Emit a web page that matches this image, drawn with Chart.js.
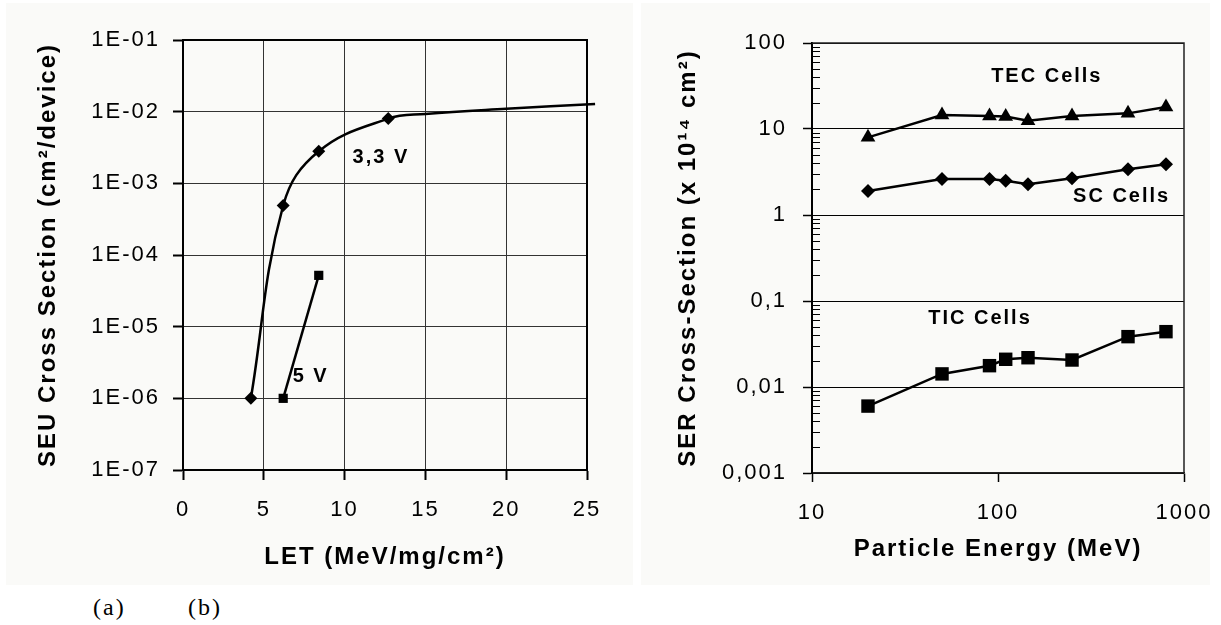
<!DOCTYPE html>
<html>
<head>
<meta charset="utf-8">
<script src="https://cdn.jsdelivr.net/npm/chart.js@4.4.1/dist/chart.umd.min.js"></script>
<style>
  html, body { margin: 0; padding: 0; background: #fff; }
  body { width: 1221px; height: 625px; position: relative; overflow: hidden; }
  .panel { position: absolute; background: #fafaf8; }
  #panelA { left: 6px; top: 3px; width: 627px; height: 582px; }
  #panelB { left: 641px; top: 3px; width: 569px; height: 582px; }
  .tag { position: absolute; top: 595px; font: 24px/24px "Liberation Serif", "Times New Roman", serif; letter-spacing: 2px; color: #000; }
</style>
</head>
<body>
<div class="panel" id="panelA"><canvas id="seuChart" width="627" height="582"></canvas></div>
<div class="panel" id="panelB"><canvas id="serChart" width="569" height="582"></canvas></div>
<div class="tag" style="left:93px">(a)</div>
<div class="tag" style="left:188px">(b)</div>
<script>
// ---- (a) SEU cross section vs LET ----
const let33 = [4.2, 6.2, 8.4, 12.7];
const sigma33 = [1e-6, 4.9e-4, 2.8e-3, 8e-3];
// fitted tail of the 3,3 V curve (no markers)
const let33Tail = [15, 20, 25.5];
const sigma33Tail = [9.3e-3, 1.1e-2, 1.28e-2];
const let5 = [6.2, 8.4];
const sigma5 = [1e-6, 5.2e-5];
const seuTicks = [1e-7, 1e-6, 1e-5, 1e-4, 1e-3, 1e-2, 1e-1];
const seuTickLabels = ["1E-07", "1E-06", "1E-05", "1E-04", "1E-03", "1E-02", "1E-01"];

// ---- (b) SER cross section vs particle energy ----
const energies = [20, 50, 90, 110, 145, 250, 500, 800];
const tecCells = [8, 14.5, 14.2, 14, 12.5, 14.2, 15.2, 18];
const scCells = [1.9, 2.62, 2.62, 2.5, 2.28, 2.67, 3.4, 3.9];
const ticCells = [0.006, 0.0142, 0.0177, 0.021, 0.0219, 0.0206, 0.0385, 0.044];
const energyTicks = [10, 100, 1000];
const energyTickLabels = ["10", "100", "1000"];
const serTicks = [0.001, 0.01, 0.1, 1, 10, 100];
const serTickLabels = ["0,001", "0,01", "0,1", "1", "10", "100"];

Chart.defaults.font.family = '"Liberation Sans", Arial, sans-serif';
Chart.defaults.color = "#000";

const toPoints = (xs, ys) => xs.map((x, i) => ({ x: x, y: ys[i] }));

// excel-like wide glyph spacing
const spacing = {
  id: "spacing",
  beforeLayout(chart) { chart.ctx.letterSpacing = "2px"; },
  beforeDraw(chart) { chart.ctx.letterSpacing = "2px"; }
};

// top/right border of the plot area
const frame = {
  id: "frame",
  beforeDatasetsDraw(chart, args, opts) {
    const { ctx, chartArea: a } = chart;
    ctx.save();
    ctx.strokeStyle = opts.color || "#000";
    ctx.lineWidth = opts.width || 2;
    ctx.beginPath();
    ctx.moveTo(a.left, a.top);
    ctx.lineTo(a.right, a.top);
    ctx.lineTo(a.right, a.bottom);
    ctx.stroke();
    ctx.restore();
  }
};

// text labels anchored in data space
const notes = {
  id: "notes",
  afterDatasetsDraw(chart, args, opts) {
    const { ctx, scales } = chart;
    ctx.save();
    ctx.font = "bold 20px " + Chart.defaults.font.family;
    ctx.fillStyle = "#000";
    ctx.textAlign = "center";
    ctx.textBaseline = "middle";
    (opts.items || []).forEach(n => {
      ctx.fillText(n.text, scales.x.getPixelForValue(n.x), scales.y.getPixelForValue(n.y));
    });
    ctx.restore();
  }
};

// minor log ticks drawn inside the plot on the y axis
const minorTicks = {
  id: "minorTicks",
  afterDraw(chart, args, opts) {
    if (!opts.enabled) return;
    const { ctx, scales, chartArea: a } = chart;
    ctx.save();
    ctx.strokeStyle = "#000";
    ctx.lineWidth = 1;
    serTicks.slice(0, -1).forEach(d => {
      for (let m = 2; m <= 9; m++) {
        const py = Math.round(scales.y.getPixelForValue(d * m)) + 0.5;
        ctx.beginPath();
        ctx.moveTo(a.left, py);
        ctx.lineTo(a.left + 8, py);
        ctx.stroke();
      }
    });
    ctx.restore();
  }
};

const tickFont = { size: 22 };
const titleFont = { size: 24, weight: "bold" };

new Chart(document.getElementById("seuChart"), {
  type: "line",
  data: {
    datasets: [
      {
        label: "3,3 V",
        data: toPoints(let33.concat(let33Tail), sigma33.concat(sigma33Tail)),
        borderColor: "#000",
        borderWidth: 2.5,
        pointStyle: "rectRot",
        pointRadius: c => (c.dataIndex < let33.length ? 6.5 : 0),
        pointBackgroundColor: "#000",
        pointBorderWidth: 0,
        tension: 0.4,
        clip: false
      },
      {
        label: "5 V",
        data: toPoints(let5, sigma5),
        borderColor: "#000",
        borderWidth: 2.5,
        pointStyle: "rect",
        pointRadius: 6.5,
        pointBackgroundColor: "#000",
        pointBorderWidth: 0
      }
    ]
  },
  options: {
    responsive: false,
    animation: false,
    layout: { padding: { top: 37, right: 46 } },
    plugins: {
      legend: { display: false },
      tooltip: { enabled: false },
      frame: { color: "#000", width: 2 },
      notes: {
        items: [
          { text: "3,3 V", x: 12.25, y: 2.33e-3 },
          { text: "5 V", x: 7.9, y: 2e-6 }
        ]
      },
      minorTicks: { enabled: false }
    },
    scales: {
      x: {
        type: "linear",
        min: 0,
        max: 25,
        ticks: { stepSize: 5, font: tickFont, padding: 17, color: "#000" },
        grid: { color: "#333", lineWidth: 1, tickLength: 10, tickColor: "#000", tickWidth: 2 },
        border: { color: "#000", width: 2 },
        title: { display: true, text: "LET (MeV/mg/cm²)", font: titleFont, color: "#000", padding: { top: 0, bottom: 13 } },
        afterFit: s => { s.height = 115; s.paddingLeft = 0; s.paddingRight = 0; }
      },
      y: {
        type: "logarithmic",
        min: 1e-7,
        max: 1e-1,
        afterBuildTicks: s => { s.ticks = seuTicks.map(v => ({ value: v })); },
        ticks: { callback: (v, i) => seuTickLabels[i], font: tickFont, padding: 13, color: "#000" },
        grid: { color: "#333", lineWidth: 1, tickLength: 10, tickColor: "#000", tickWidth: 2 },
        border: { color: "#000", width: 2 },
        title: { display: true, text: "SEU Cross Section (cm²/device)", font: titleFont, color: "#000", padding: { top: 28, bottom: 0 } },
        afterFit: s => { s.width = 177; }
      }
    }
  },
  plugins: [spacing, frame, notes, minorTicks]
});

const serSeries = (label, ys, style, radius) => ({
  label: label,
  data: toPoints(energies, ys),
  borderColor: "#000",
  borderWidth: 2.5,
  pointStyle: style,
  pointRadius: radius,
  pointBackgroundColor: "#000",
  pointBorderWidth: 0
});

new Chart(document.getElementById("serChart"), {
  type: "line",
  data: {
    datasets: [
      serSeries("TEC Cells", tecCells, "triangle", 8.5),
      serSeries("SC Cells", scCells, "rectRot", 7),
      serSeries("TIC Cells", ticCells, "rect", 9.5)
    ]
  },
  options: {
    responsive: false,
    animation: false,
    layout: { padding: { top: 40, right: 26 } },
    plugins: {
      legend: { display: false },
      tooltip: { enabled: false },
      frame: { color: "#222", width: 1.5 },
      notes: {
        items: [
          { text: "TEC Cells", x: 183, y: 41 },
          { text: "SC Cells", x: 462, y: 1.62 },
          { text: "TIC Cells", x: 80, y: 0.062 }
        ]
      },
      minorTicks: { enabled: true }
    },
    scales: {
      x: {
        type: "logarithmic",
        min: 10,
        max: 1000,
        afterBuildTicks: s => { s.ticks = energyTicks.map(v => ({ value: v })); },
        ticks: { callback: (v, i) => energyTickLabels[i], font: tickFont, padding: 18, color: "#000" },
        grid: { drawOnChartArea: false, tickLength: 9, tickColor: "#000", tickWidth: 1.5 },
        border: { color: "#222", width: 1.5 },
        title: { display: true, text: "Particle Energy (MeV)", font: titleFont, color: "#000", padding: { top: 0, bottom: 21 } },
        afterFit: s => { s.height = 112; s.paddingLeft = 0; s.paddingRight = 0; }
      },
      y: {
        type: "logarithmic",
        min: 0.001,
        max: 100,
        afterBuildTicks: s => { s.ticks = serTicks.map(v => ({ value: v })); },
        ticks: { callback: (v, i) => serTickLabels[i], font: tickFont, padding: 16, color: "#000" },
        grid: { color: "#000", lineWidth: 1, tickLength: 9, tickColor: "#000", tickWidth: 1.5 },
        border: { color: "#000", width: 2 },
        title: { display: true, text: "SER Cross-Section (x 10¹⁴ cm²)", font: titleFont, color: "#000", padding: { top: 33, bottom: 0 } },
        afterFit: s => { s.width = 171; }
      }
    }
  },
  plugins: [spacing, frame, notes, minorTicks]
});
</script>
</body>
</html>
